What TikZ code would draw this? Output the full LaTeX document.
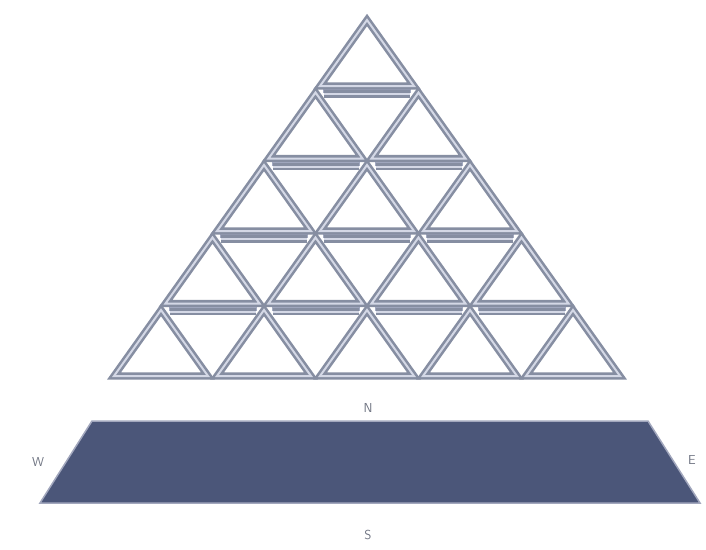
\documentclass[tikz,border=0pt]{standalone}
\usetikzlibrary{calc}
\definecolor{triline}{HTML}{868EA2}
\definecolor{triinner}{HTML}{D4D8E6}
\definecolor{bandfill}{HTML}{A3AAC2}
\definecolor{basefill}{HTML}{4B5679}
\definecolor{baseedge}{HTML}{A2A7BD}
\definecolor{labelc}{HTML}{6F7482}
\tikzset{
  tri/.style={draw=triline, line width=2.6pt, double=triinner, double distance=2pt, line join=miter},
  band/.style={fill=bandfill},
  basetrap/.style={fill=basefill, draw=baseedge, line width=1.5pt},
  dirlabel/.style={text=labelc, font=\sffamily\fontsize{13}{13}\selectfont, inner sep=0pt}
}
\begin{document}
\begin{tikzpicture}[x=1pt,y=-1pt]
\useasboundingbox (0,0) rectangle (706,549);
% bands between rows
\foreach \r in {0,...,3}{
  \foreach \i in {0,...,\r}{
    \pgfmathsetmacro{\cx}{367+(\i-\r/2)*103}
    \pgfmathsetmacro{\ty}{20+\r*72.5}
    \fill[band] (\cx-44,\ty+67) rectangle (\cx+44,\ty+73);
    \draw[tri] (\cx-43,\ty+74) -- (\cx+43,\ty+74);
  }
}
% pyramid of triangles
\foreach \r in {0,...,4}{
  \foreach \i in {0,...,\r}{
    \pgfmathsetmacro{\cx}{367+(\i-\r/2)*103}
    \pgfmathsetmacro{\ty}{20+\r*72.5}
    \draw[tri] (\cx,\ty) -- (\cx+47,\ty+66) -- (\cx-47,\ty+66) -- cycle;
  }
}
% base
\coordinate (tl) at (92,421);
\coordinate (tr) at (648,421);
\coordinate (br) at (700,503);
\coordinate (bl) at (40,503);
\draw[basetrap] (tl) -- (tr) -- (br) -- (bl) -- cycle;
\node[dirlabel] (n) at (368,408) {N};
\node[dirlabel] (s) at (368,535) {S};
\node[dirlabel] (w) at (38,462) {W};
\node[dirlabel] (e) at (692,460) {E};
\end{tikzpicture}
\end{document}
